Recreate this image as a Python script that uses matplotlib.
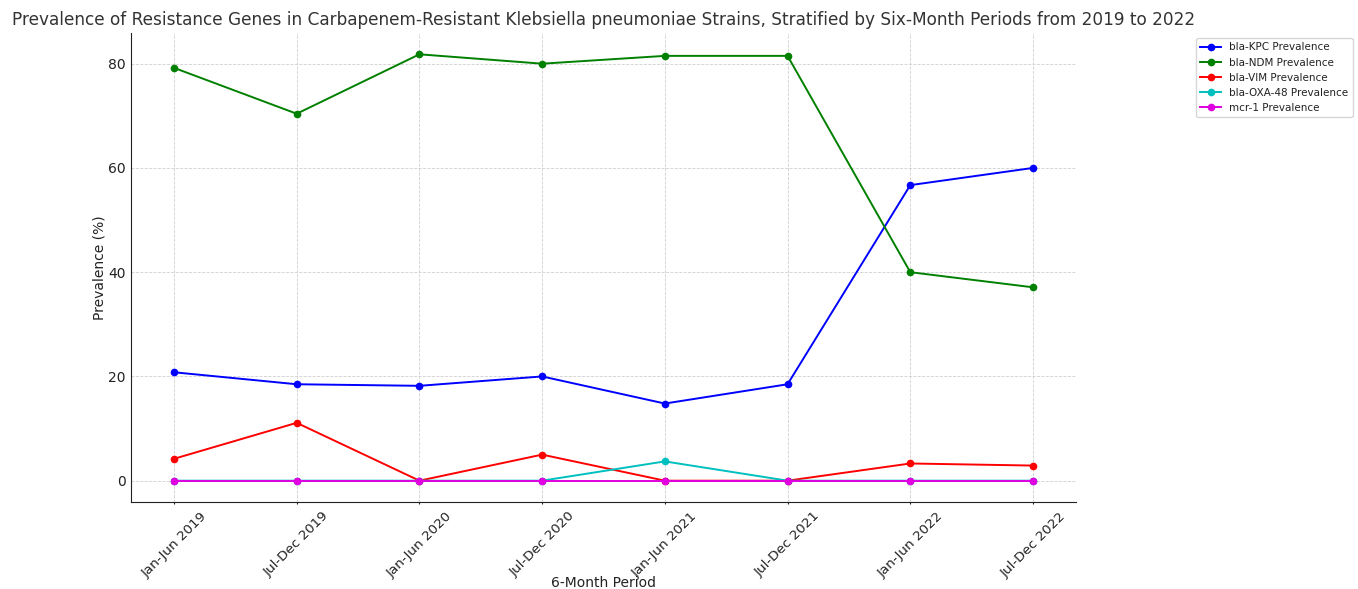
import matplotlib.pyplot as plt

# --- data ---------------------------------------------------------------
periods = ["Jan-Jun 2019", "Jul-Dec 2019", "Jan-Jun 2020", "Jul-Dec 2020",
           "Jan-Jun 2021", "Jul-Dec 2021", "Jan-Jun 2022", "Jul-Dec 2022"]
kpc = [20.8, 18.5, 18.2, 20.0, 14.8, 18.5, 56.7, 60.0]
ndm = [79.2, 70.4, 81.8, 80.0, 81.5, 81.5, 40.0, 37.1]
vim = [4.2, 11.1, 0.0, 5.0, 0.0, 0.0, 3.3, 2.9]
oxa48 = [0.0, 0.0, 0.0, 0.0, 3.7, 0.0, 0.0, 0.0]
mcr1 = [0.0, 0.0, 0.0, 0.0, 0.0, 0.0, 0.0, 0.0]

series = [
    ("bla-KPC Prevalence", kpc, "#0000ff"),
    ("bla-NDM Prevalence", ndm, "#008000"),
    ("bla-VIM Prevalence", vim, "#ff0000"),
    ("bla-OXA-48 Prevalence", oxa48, "#00bfbf"),
    ("mcr-1 Prevalence", mcr1, "#e000e0"),
]

# --- plot ---------------------------------------------------------------
plt.rcParams["text.color"] = "#222222"
plt.rcParams["axes.labelcolor"] = "#222222"
plt.rcParams["xtick.color"] = "#222222"
plt.rcParams["ytick.color"] = "#222222"
plt.rcParams["axes.edgecolor"] = "#222222"

fig = plt.figure(figsize=(13.58, 5.89), dpi=100)
ax = fig.add_axes([0.0965, 0.1477, 0.6958, 0.7963])

for label, vals, col in series:
    ax.plot(periods, vals, marker="o", markersize=4.5, lw=1.4, color=col, label=label)

ax.set_title("Prevalence of Resistance Genes in Carbapenem-Resistant Klebsiella pneumoniae Strains, "
             "Stratified by Six-Month Periods from 2019 to 2022", fontsize=12.2, color="#333333")
ax.set_xlabel("6-Month Period", fontsize=10)
ax.xaxis.set_label_coords(0.5, -0.158)
ax.set_ylabel("Prevalence (%)", fontsize=10, labelpad=1)
ax.set_yticks([0, 20, 40, 60, 80])
ax.tick_params(axis="y", labelsize=10, length=0, pad=4)
ax.tick_params(axis="x", labelsize=9.7, length=1.5, pad=4)
plt.setp(ax.get_xticklabels(), rotation=45)

ax.grid(True, linestyle="--", color="#d0d0d0", linewidth=0.6)
ax.spines["top"].set_visible(False)
ax.spines["right"].set_visible(False)

ax.legend(loc="upper left", bbox_to_anchor=(1.127, 0.989), borderaxespad=0,
          fontsize=7.5, frameon=True)

fig.savefig("out.png", dpi=100)
